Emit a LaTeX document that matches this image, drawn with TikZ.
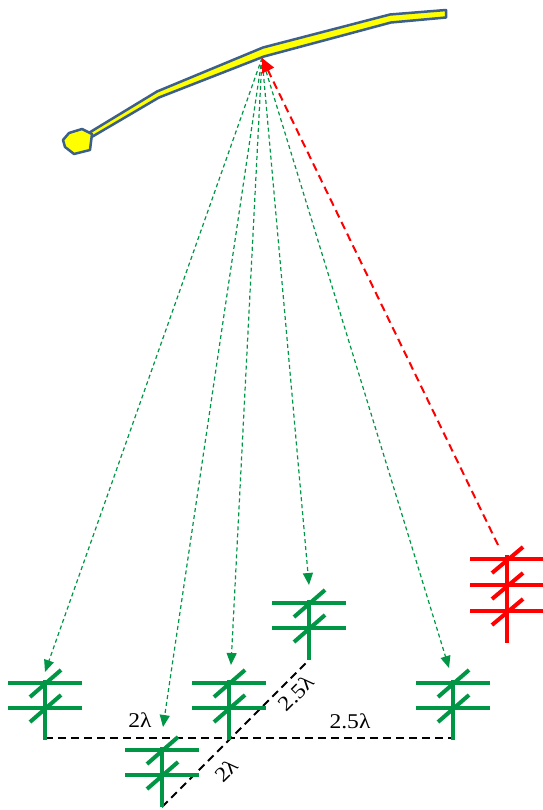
\documentclass[tikz,border=0pt]{standalone}
\usepackage{fontspec}
\newfontfamily\lblfont[FakeStretch=1.12]{Liberation Serif}
\usetikzlibrary{arrows.meta}

\definecolor{antgreen}{RGB}{0,150,70}
\definecolor{antred}{RGB}{255,0,0}
\definecolor{satedge}{RGB}{60,95,140}
\definecolor{satfill}{RGB}{255,255,0}

\tikzset{
  elem/.style={line width=4pt},
  link/.style={antgreen, line width=1.2pt, dash pattern=on 4pt off 3pt,
    -{Triangle[length=12pt,width=10pt]}},
  uplink/.style={antred, line width=2pt, dash pattern=on 8pt off 5pt,
    -{Triangle[length=14pt,width=13pt]}},
  spacing/.style={black, line width=1.8pt, dash pattern=on 8pt off 5pt},
  dimlabel/.style={font=\lblfont\fontsize{21}{23}\selectfont, inner sep=0pt},
  % receiving element: two crossed bars on a mast
  pics/rxant/.style={code={
    \draw[elem] (-37,0) -- (37,0);
    \draw[elem] (-37,25) -- (37,25);
    \draw[elem] (0,-3) -- (0,57);
    \draw[elem] (-15,14) -- (16,-13);
    \draw[elem] (-15,39) -- (16,12);
  }},
  % transmitting element: three crossed bars on a mast
  pics/txant/.style={code={
    \draw[elem] (-37,0) -- (37,0);
    \draw[elem] (-37,26) -- (37,26);
    \draw[elem] (-37,52) -- (37,52);
    \draw[elem] (0,-4) -- (0,84);
    \draw[elem] (-15,14) -- (16,-12);
    \draw[elem] (-15,40) -- (16,14);
    \draw[elem] (-15,66) -- (16,40);
  }}
}

\begin{document}
\begin{tikzpicture}[x=1pt,y=-1pt]
\useasboundingbox (0,0) rectangle (542,810);

% satellite boom
\filldraw[fill=satfill, draw=satedge, line width=2.5pt, line join=round]
  (87,134) -- (157,91.5) -- (263,47.5) -- (390,14.5) -- (446,10)
  -- (446,17.5) -- (391,22.5) -- (264,56.5) -- (159,97.5) -- (90,138) -- cycle;
% satellite head
\filldraw[fill=satfill, draw=satedge, line width=2.5pt, line join=round]
  (63,140) -- (69,133) -- (82,129) -- (92,134) -- (90,150) -- (74,154) -- (65,147) -- cycle;

\coordinate (sat) at (262,58);

% spacing lines of the array
\coordinate (h1) at (45,738);
\coordinate (h2) at (453,738);
\coordinate (d1) at (162,807);
\coordinate (d2) at (309,660);
\draw[spacing] (h1) -- (h2);
\draw[spacing] (d1) -- (d2);

% array elements
\pic[antgreen] (a1) at (45,683) {rxant};
\pic[antgreen] (a2) at (162,750) {rxant};
\pic[antgreen] (a3) at (229,683) {rxant};
\pic[antgreen] (a4) at (309,603) {rxant};
\pic[antgreen] (a5) at (453,683) {rxant};
\pic[antred] (tx) at (507,559) {txant};

% arrow ends above the elements
\coordinate (t1) at (45,672);
\coordinate (t2) at (163,727);
\coordinate (t3) at (231,665);
\coordinate (t4) at (309,585);
\coordinate (t5) at (449,668);
\coordinate (t6) at (498,545);

\draw[link] (sat) -- (t1);
\draw[link] (sat) -- (t2);
\draw[link] (sat) -- (t3);
\draw[link] (sat) -- (t4);
\draw[link] (sat) -- (t5);
\draw[uplink] (t6) -- (sat);

% spacing labels
\node[dimlabel] (l1) at (140,720) {2λ};
\node[dimlabel] (l2) at (350,721) {2.5λ};
\node[dimlabel, rotate=45] (l3) at (296,693) {2.5λ};
\node[dimlabel, rotate=45] (l4) at (226,770) {2λ};
\end{tikzpicture}
\end{document}
